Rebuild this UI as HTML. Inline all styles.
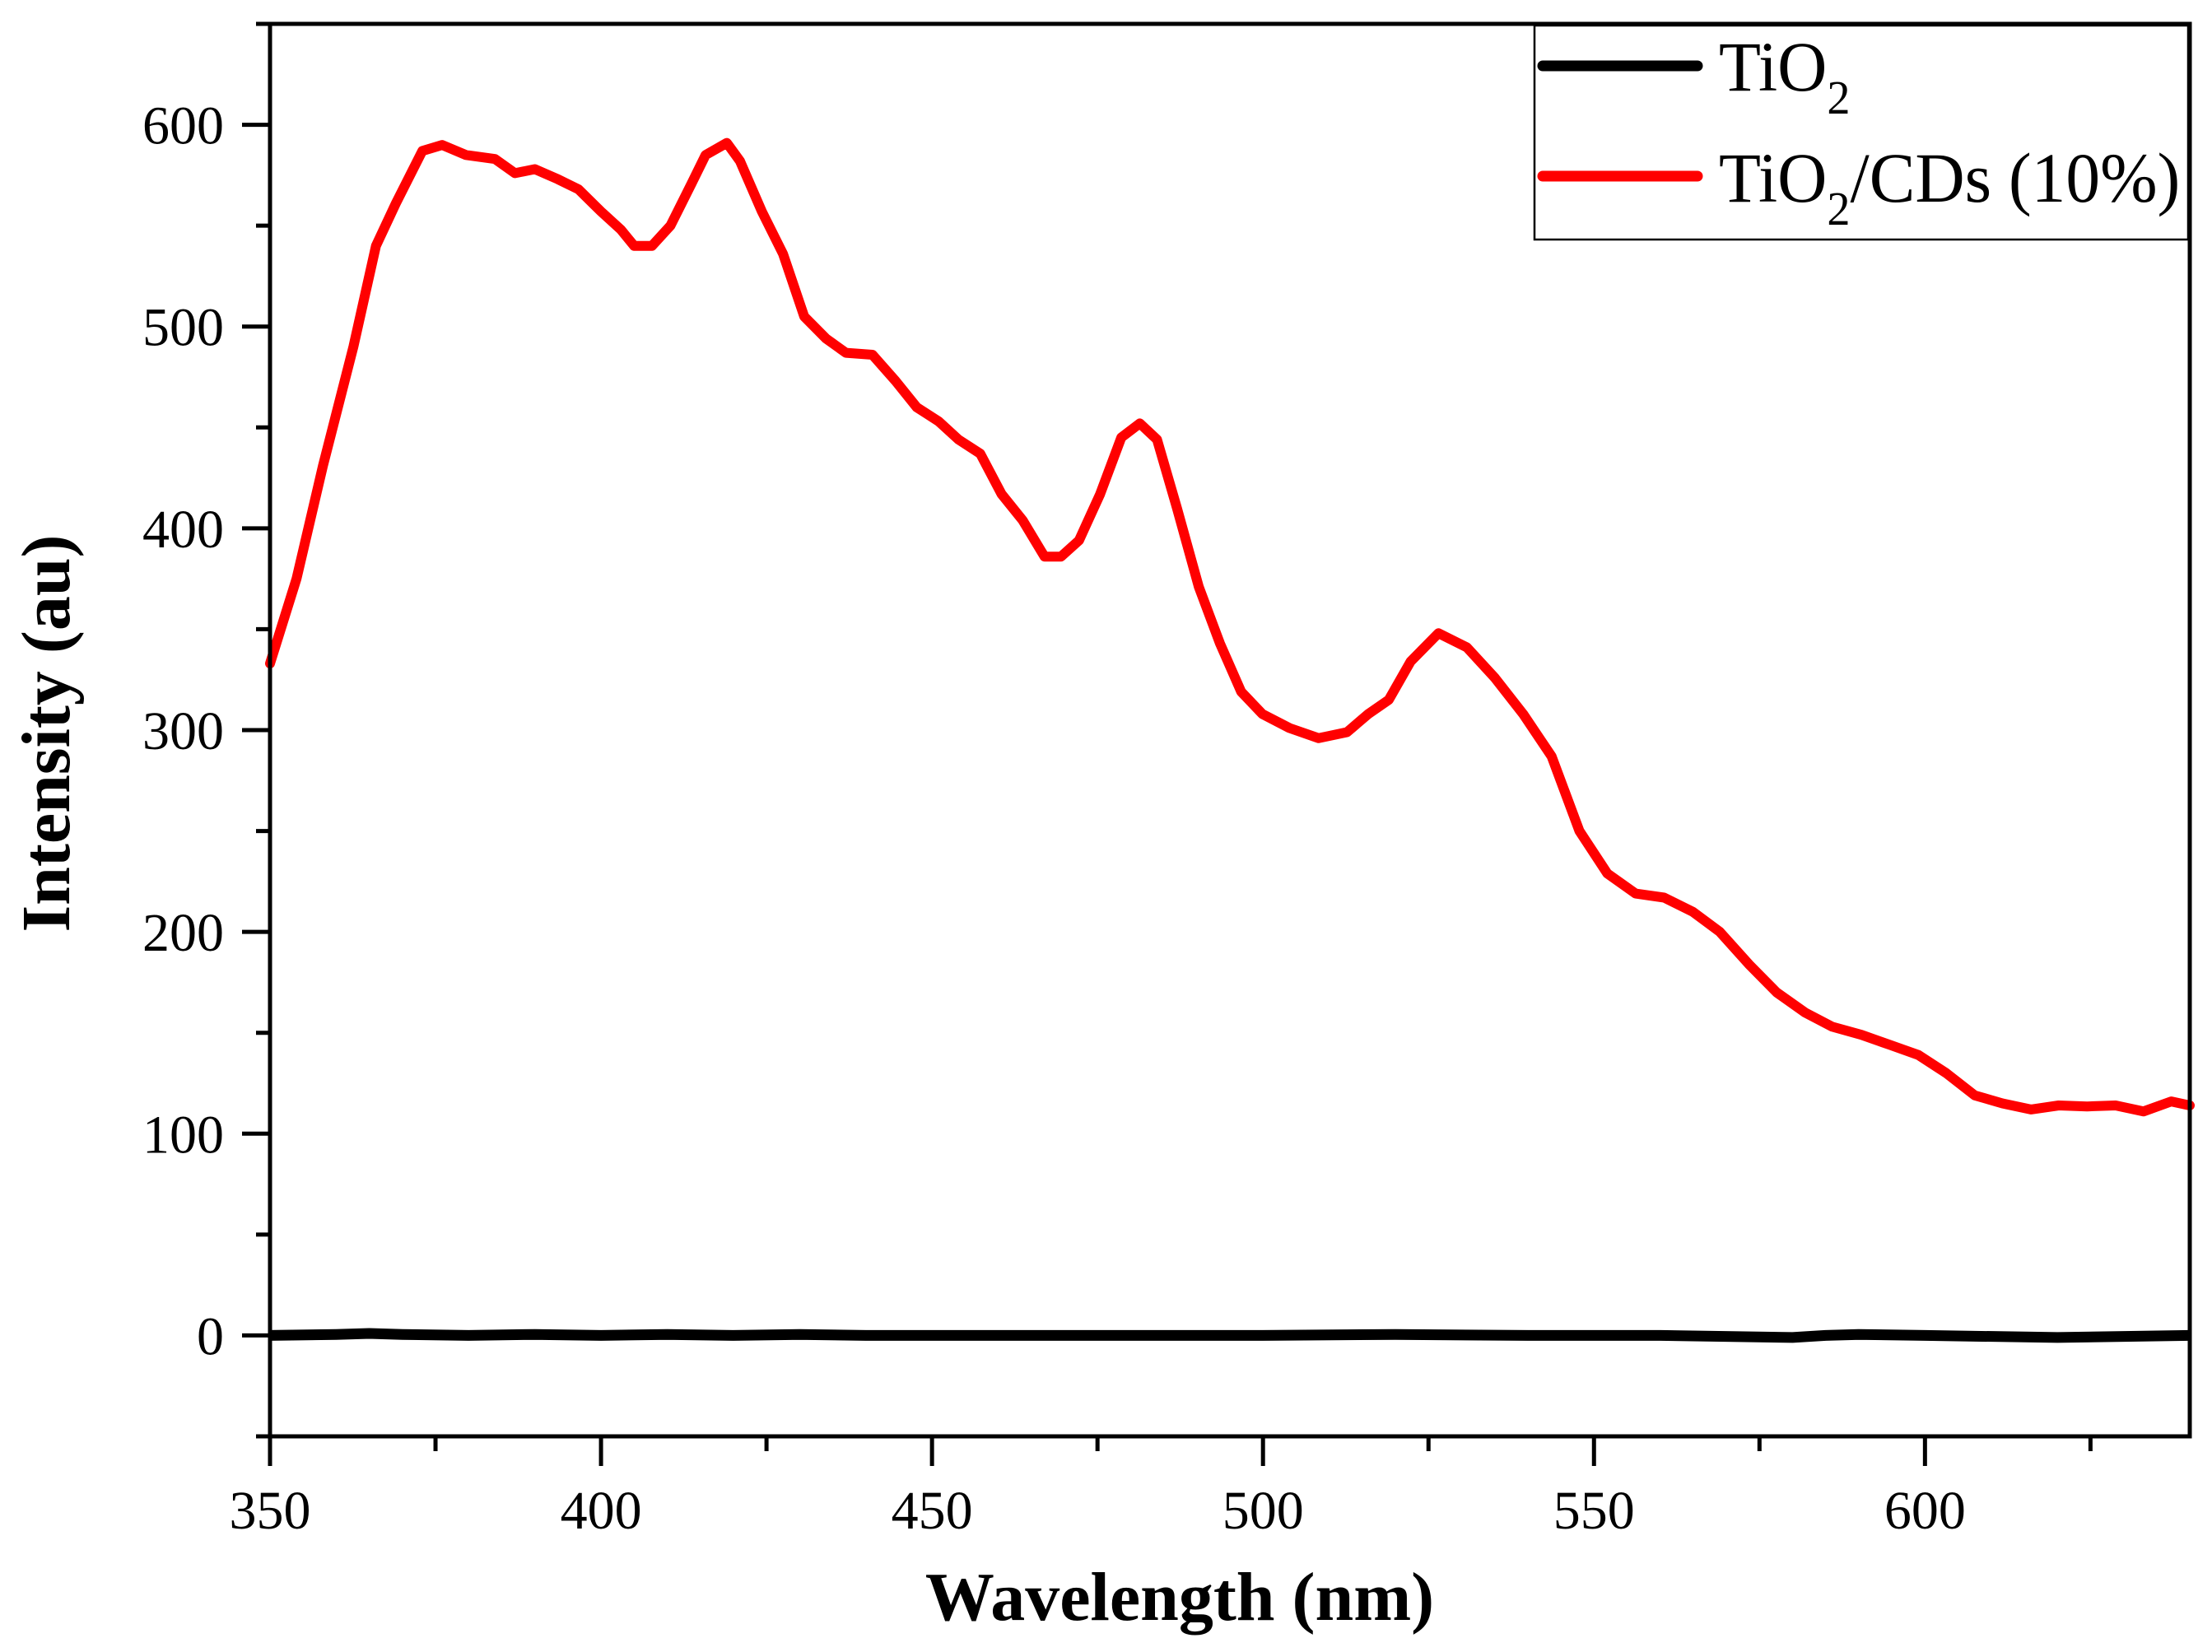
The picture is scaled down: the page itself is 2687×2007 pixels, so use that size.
<!DOCTYPE html>
<html><head><meta charset="utf-8"><style>
html,body{margin:0;padding:0;background:#fff;}
svg{display:block;}
text{font-family:"Liberation Serif",serif;fill:#000;}
</style></head><body>
<svg id="chart" width="2687" height="2007" viewBox="0 0 2687 2007" xmlns="http://www.w3.org/2000/svg">
<g id="axes"></g>
<g id="series"></g>
<rect x="328" y="29" width="2332" height="1716" fill="none" stroke="#000" stroke-width="5"/>
<g>
<rect x="1864" y="31" width="794" height="260" fill="#fff" stroke="#000" stroke-width="2.5"/>
<line x1="1874" y1="80" x2="2062" y2="80" stroke="#000" stroke-width="13" stroke-linecap="round"/>
<text transform="translate(2088,110) scale(0.97,1)" font-size="86">TiO<tspan font-size="58" dy="28">2</tspan></text>
<line x1="1874" y1="214" x2="2062" y2="214" stroke="#f00" stroke-width="13" stroke-linecap="round"/>
<text transform="translate(2088,245) scale(0.97,1)" font-size="86">TiO<tspan font-size="58" dy="28">2</tspan><tspan dy="-28">/CDs (10%)</tspan></text>
</g>
<text x="1433" y="1968" font-size="84" font-weight="bold" text-anchor="middle">Wavelength (nm)</text>
<text transform="translate(84,891) rotate(-90)" font-size="84" font-weight="bold" text-anchor="middle">Intensity (au)</text>
</svg>
<script>
const xTicks = [350, 400, 450, 500, 550, 600];
const yTicks = [0, 100, 200, 300, 400, 500, 600];
const cdsX = [350,354,358,362.6,366,369,373,376,379.6,384,387,390,393.5,396.6,400,403,405,407.7,410.5,413.7,415.8,419,421,424.3,427.5,430.7,434,437,441,444.5,447.7,451,454,457.3,460.5,463.7,467,469.5,472.2,475.4,478.6,481.4,484,487,490.3,493.5,496.7,499.9,504,508.4,512.7,515.9,519,522.3,526.5,530.8,535,539.3,543.6,547.8,552,556.3,560.6,564.9,569,573.4,577.6,581.9,586,590.4,594.7,599,603.2,607.5,611.7,616,620.2,624.5,628.8,633,637.2,640];
const cdsY = [333,375,431,490,540,561,587,590,585,583,576,578,573,568,557,548,540,540,550,571,585,591,582,557,536,505,494,487,486,473,460,453,444,437,417,404,386,386,394,417,445,452,444,410,371,343,319,308,301,296,299,308,315,334,348,341,326,308,287,250,229,219,217,210,200,184,170,160,153,149,144,139,130,119,115,112,114,113.5,114,111,116,114];
const tioX = [350,360,365,370,380,390,400,410,420,430,440,450,460,470,480,500,520,540,560,580,585,590,600,620,640];
const tioY = [0,0.5,1,0.5,0,0.5,0,0.5,0,0.5,0,0,0,0,0,0,0.5,0,0,-1,0,0.5,0,-1,0];

const L=328,R=2660,T=29,B=1745,XMIN=350,XMAX=640,YMIN=-50,YMAX=650;
const sx=v=>L+(v-XMIN)/(XMAX-XMIN)*(R-L);
const sy=v=>B-(v-YMIN)/(YMAX-YMIN)*(B-T);
const NS='http://www.w3.org/2000/svg';
const axes=document.getElementById('axes'), series=document.getElementById('series');
function mk(tag,attrs,parent){const e=document.createElementNS(NS,tag);for(const k in attrs)e.setAttribute(k,attrs[k]);parent.appendChild(e);return e;}

for(let v=XMIN;v<=XMAX;v+=25){
  const major=v%50===0;
  const t=mk('line',{x1:sx(v),x2:sx(v),y1:B,y2:B+(major?36:18),stroke:'#000','stroke-width':5},axes);
  
  
}
xTicks.forEach(v=>{
  const t=mk('text',{transform:`translate(${sx(v)},1857)`,'font-size':66,'text-anchor':'middle'},axes);
  t.textContent=v;
  
  
});
for(let v=YMIN;v<=YMAX;v+=50){
  const major=v%100===0;
  const t=mk('line',{x1:L,x2:L-(major?34:17),y1:sy(v),y2:sy(v),stroke:'#000','stroke-width':5},axes);
  
  
}
yTicks.forEach(v=>{
  const t=mk('text',{transform:`translate(272,${sy(v)+23})`,'font-size':66,'text-anchor':'end'},axes);
  t.textContent=v;
  
  
});

function path(xs,ys){return xs.map((x,i)=>(i?'L':'M')+sx(x).toFixed(1)+','+sy(ys[i]).toFixed(1)).join(' ');}
const p1=mk('path',{d:path(tioX,tioY),fill:'none',stroke:'#000','stroke-width':13,'stroke-linejoin':'round'},series);


const p2=mk('path',{d:path(cdsX,cdsY),fill:'none',stroke:'#f00','stroke-width':12,'stroke-linejoin':'round','stroke-linecap':'round'},series);


</script>
</body></html>
